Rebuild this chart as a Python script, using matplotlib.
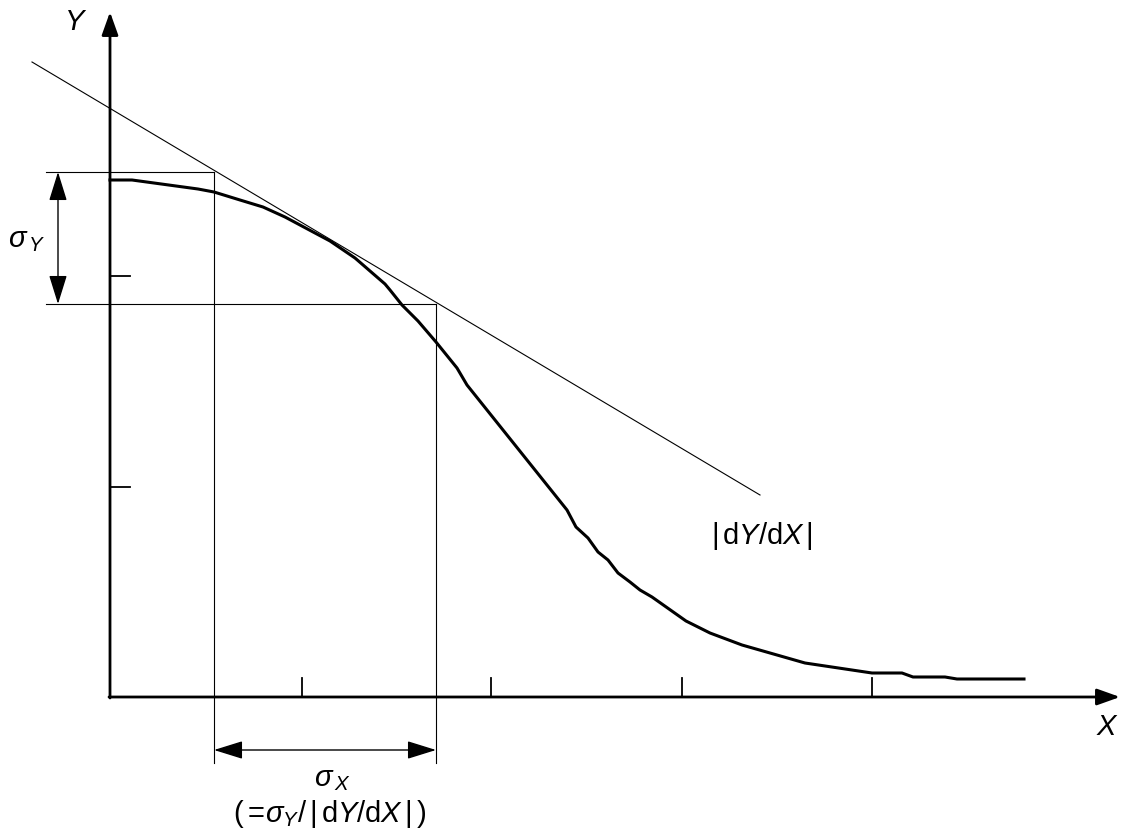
import numpy as np
import matplotlib.pyplot as plt

plt.rcParams['font.family'] = ['Liberation Sans', 'DejaVu Sans']
plt.rcParams['mathtext.fontset'] = 'custom'
plt.rcParams['mathtext.rm'] = 'Liberation Sans'
plt.rcParams['mathtext.it'] = 'Liberation Sans:italic'

# everything in picture units (pixels, y down)
curve_x = [110, 132, 198, 214, 240, 263, 285, 330, 355, 385, 390, 402, 418, 436, 457,
           467, 567, 576, 588, 598, 608, 618, 630, 640, 652, 686, 710, 742, 805, 872,
           902, 913, 945, 957, 1024]
curve_y = [180, 180, 189, 192, 200, 207, 217, 241, 258, 284, 290, 305, 321, 342, 368,
           385, 510, 527, 538, 552, 560, 573, 582, 590, 597, 621, 633, 645, 663, 673,
           673, 677, 677, 679, 679]

tangent_x = [32, 760]
tangent_y = [62, 495]

origin = (110, 697)
y_top = 12
x_right = 1120
y_ticks = [276, 487]
x_ticks = [302, 491, 682, 872]

sy_hi, sy_lo = 172, 304      # sigma_Y levels
sx_lo, sx_hi = 214, 436      # sigma_X positions

fig = plt.figure(figsize=(11.21, 8.31), dpi=100)
ax = fig.add_axes([0, 0, 1, 1])
ax.set_xlim(0, 1121)
ax.set_ylim(831, 0)
ax.axis('off')

# axes with arrow heads
arr = dict(arrowstyle='-|>,head_length=0.7,head_width=0.25', lw=2, color='k',
           mutation_scale=20, shrinkA=0, shrinkB=0)
ax.annotate('', xy=(origin[0], y_top), xytext=(origin[0], origin[1] + 1), arrowprops=arr)
ax.annotate('', xy=(x_right, origin[1]), xytext=(origin[0] - 1, origin[1]), arrowprops=arr)

for t in y_ticks:
    ax.plot([origin[0], origin[0] + 20], [t, t], color='k', lw=1.3)
for t in x_ticks:
    ax.plot([t, t], [origin[1], origin[1] - 19], color='k', lw=1.3)

# tangent and curve
ax.plot(tangent_x, tangent_y, color='k', lw=0.8)
ax.plot(curve_x, curve_y, color='k', lw=2.2, solid_joinstyle='round')

# construction lines
ax.plot([46, sx_lo], [sy_hi, sy_hi], color='k', lw=0.8)
ax.plot([46, sx_hi], [sy_lo, sy_lo], color='k', lw=0.8)
ax.plot([sx_lo, sx_lo], [sy_hi, 763], color='k', lw=0.8)
ax.plot([sx_hi, sx_hi], [sy_lo, 763], color='k', lw=0.8)

# dimension arrows
dim = dict(arrowstyle='<|-|>,head_length=0.9,head_width=0.28', lw=1, color='k',
           mutation_scale=20, shrinkA=0, shrinkB=0)
ax.annotate('', xy=(58, sy_hi), xytext=(58, sy_lo), arrowprops=dim)
ax.annotate('', xy=(sx_lo, 750), xytext=(sx_hi, 750), arrowprops=dim)

# labels
fs = 21
ax.text(76, 22, '$Y$', fontsize=fs, ha='center', va='center')
ax.text(1107, 727, '$X$', fontsize=fs, ha='center', va='center')
ax.text(27, 240, r'$\sigma_{\,Y}$', fontsize=fs, ha='center', va='center')
ax.text(332, 779, r'$\sigma_{\,X}$', fontsize=fs, ha='center', va='center')
ax.text(330, 814, r'$(=\!\sigma_Y/\,|\,\mathrm{d}Y/\mathrm{d}X\,|\,)$', fontsize=fs,
        ha='center', va='center')
ax.text(762, 536, r'$|\,\mathrm{d}Y/\mathrm{d}X\,|$', fontsize=fs,
        ha='center', va='center')

fig.savefig('out.png', dpi=100)
